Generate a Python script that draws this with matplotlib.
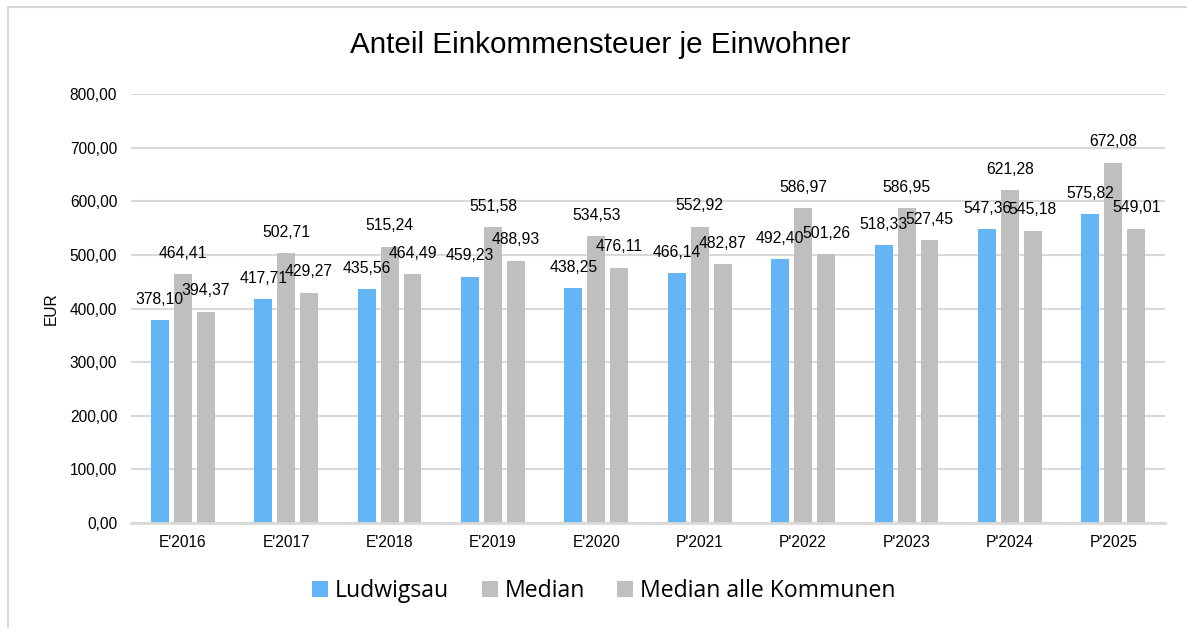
import matplotlib
matplotlib.use("Agg")
import matplotlib.pyplot as plt
import numpy as np
from matplotlib.lines import Line2D
from matplotlib.ticker import FuncFormatter

plt.rcParams['font.family'] = ['Liberation Sans', 'DejaVu Sans']

years = ["E'2016", "E'2017", "E'2018", "E'2019", "E'2020",
         "P'2021", "P'2022", "P'2023", "P'2024", "P'2025"]
ludwigsau = [378.10, 417.71, 435.56, 459.23, 438.25, 466.14, 492.40, 518.33, 547.36, 575.82]
median = [464.41, 502.71, 515.24, 551.58, 534.53, 552.92, 586.97, 586.95, 621.28, 672.08]
median_alle = [394.37, 429.27, 464.49, 488.93, 476.11, 482.87, 501.26, 527.45, 545.18, 549.01]

series = [("Ludwigsau", ludwigsau, "#64B5F6"),
          ("Median", median, "#BFBFBF"),
          ("Median alle Kommunen", median_alle, "#BFBFBF")]

def de(v):
    return f"{v:,.2f}".replace(",", "X").replace(".", ",").replace("X", ".")

fig = plt.figure(figsize=(11.87, 6.28), dpi=100)
ax = fig.add_axes([0.1104, 0.1672, 0.8711, 0.6831])

x = np.arange(len(years))
width = 0.174
step = 0.222
for i, (name, vals, col) in enumerate(series):
    pos = x + (i - 1) * step
    bars = ax.bar(pos, vals, width, color=col, label=name, zorder=3)
    for b, v in zip(bars, vals):
        ax.annotate(de(v), (b.get_x() + b.get_width() / 2, v),
                    xytext=(0, 15), textcoords='offset points',
                    ha='center', va='center', fontsize=11.3, color='#000000', zorder=5)

ax.set_xlim(-0.5, len(years) - 0.5)
ax.set_ylim(0, 800)
ax.set_yticks(np.arange(0, 801, 100))
ax.yaxis.set_major_formatter(FuncFormatter(lambda v, p: de(v)))
ax.set_xticks(x)
ax.set_xticklabels(years)
ax.tick_params(axis='both', length=0, labelsize=11.2, colors='#000000')
ax.tick_params(axis='y', pad=10)
ax.tick_params(axis='x', pad=9)
ax.grid(axis='y', color='#D9D9D9', linewidth=1.5, zorder=0)
for s in ['top', 'right', 'left']:
    ax.spines[s].set_visible(False)
ax.spines['bottom'].set_color('#D9D9D9')
ax.spines['bottom'].set_linewidth(2)
ax.spines['bottom'].set_zorder(4)

ax.set_ylabel("EUR", fontsize=11.2, labelpad=8)
fig.text(600 / 1187, 1 - 45 / 628, "Anteil Einkommensteuer je Einwohner",
         ha='center', va='center', fontsize=21.3)

leg = fig.legend(loc='center', bbox_to_anchor=(604 / 1187, 1 - 591 / 628), ncol=3,
                 frameon=False, handlelength=0.7, handleheight=0.7,
                 handletextpad=0.3, columnspacing=1.4,
                 prop={'family': 'Open Sans', 'size': 16.6})

# chart frame (left and top edges visible)
fig.add_artist(Line2D([8 / 1187, 8 / 1187], [0, 1 - 7 / 628], color='#D9D9D9', linewidth=1.5))
fig.add_artist(Line2D([8 / 1187, 1], [1 - 7 / 628, 1 - 7 / 628], color='#D9D9D9', linewidth=1.5))

fig.savefig("out.png", dpi=100)
